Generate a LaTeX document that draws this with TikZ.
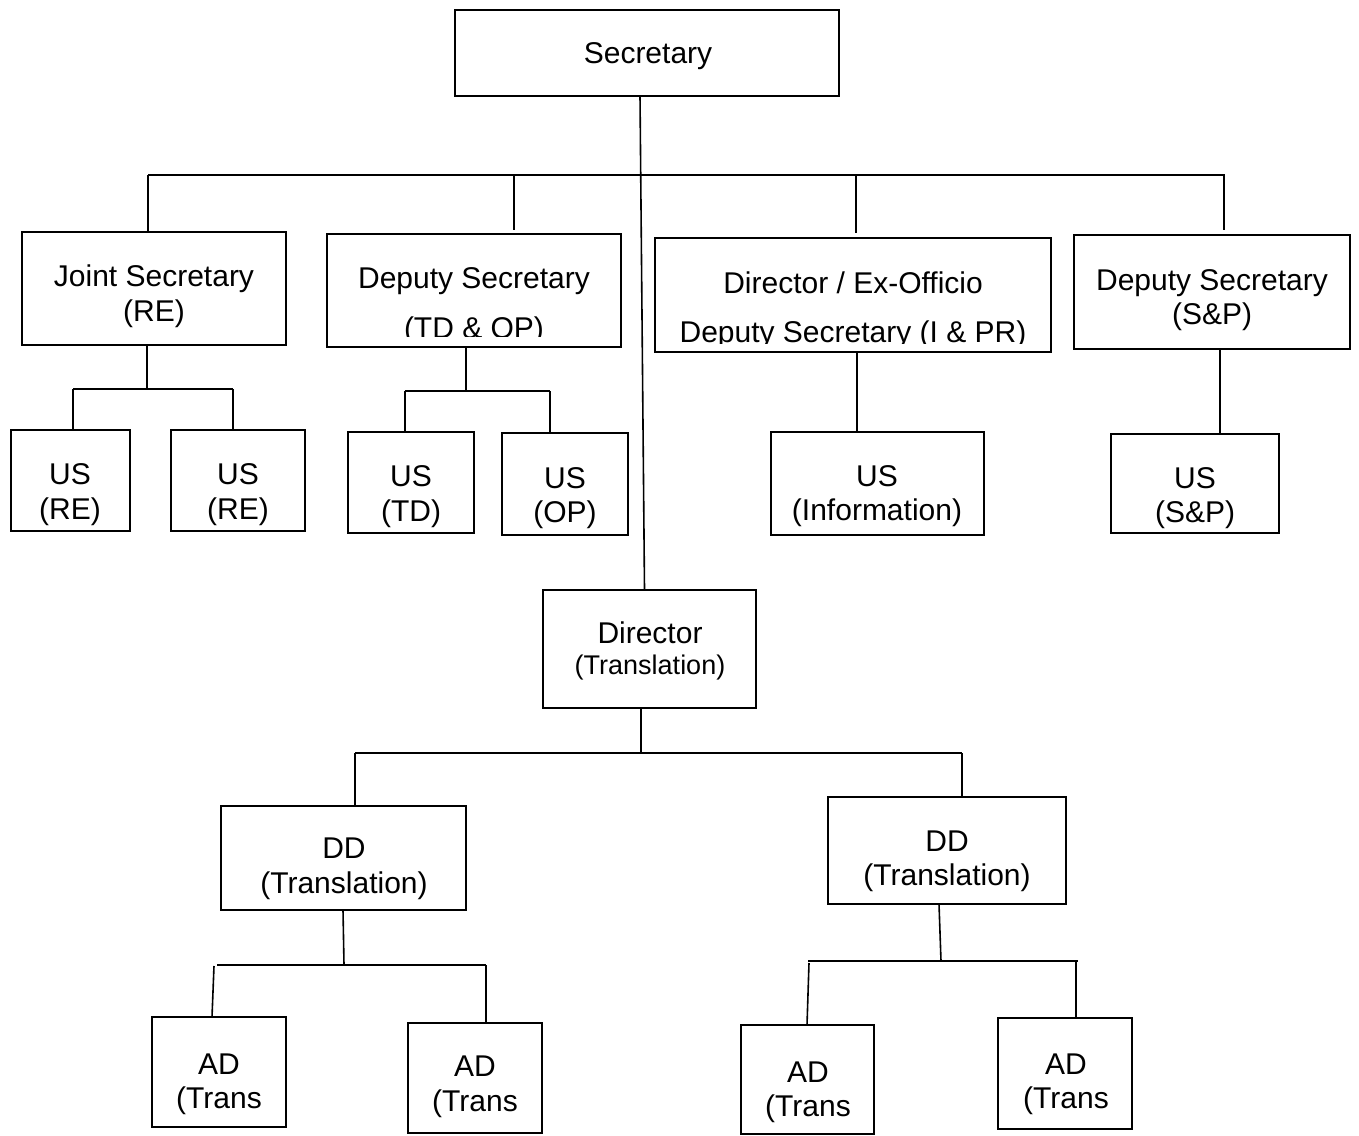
\documentclass[tikz,border=0pt]{standalone}
\usepackage{fontspec}
\setmainfont{Liberation Sans}
\newcommand\obox[5]{%
  \node[box, minimum width={(#4)-(#2)}, minimum height={(#5)-(#3)}] (#1) at ({((#2)+(#4))/2},{((#3)+(#5))/2}) {};}
\begin{document}
\begin{tikzpicture}[x=1pt,y=-1pt,
  box/.style={draw,line width=1.6pt,inner sep=0pt,outer sep=0pt},
  txt/.style={anchor=base,inner sep=0pt,font=\fontsize{30}{36}\selectfont},
  stxt/.style={anchor=base,inner sep=0pt,font=\fontsize{27}{32}\selectfont},
  conn/.style={line width=1.6pt}]
\useasboundingbox[fill=white] (0,0) rectangle (1359,1135);

% boxes
\obox{sec}{455}{10}{839}{96}
\obox{js}{22}{232}{286}{345}
\obox{dsa}{327}{234}{621}{347}
\obox{dex}{655}{238}{1051}{352}
\obox{dsb}{1074}{235}{1350}{349}
\obox{usa}{11}{430}{130}{531}
\obox{usb}{171}{430}{305}{531}
\obox{usc}{348}{432}{474}{533}
\obox{usd}{502}{433}{628}{535}
\obox{use}{771}{432}{984}{535}
\obox{usf}{1111}{434}{1279}{533}
\obox{dirt}{543}{590}{756}{708}
\obox{dda}{221}{806}{466}{910}
\obox{ddb}{828}{797}{1066}{904}
\obox{ada}{152}{1017}{286}{1127}
\obox{adb}{408}{1023}{542}{1133}
\obox{adc}{741}{1025}{874}{1134}
\obox{add}{998}{1018}{1132}{1129}

% texts
\node[txt] (sec-t) at (648,63) {Secretary};
\node[txt] (js-t1) at (154,286) {Joint Secretary};
\node[txt] (js-t2) at (154,321) {(RE)};
\node[txt] (dsa-t1) at (474,288) {Deputy Secretary};
\begin{scope}
  \clip (330,300) rectangle (618,336);
  \node[txt] (dsa-t2) at (474,338) {(TD \& OP)};
\end{scope}
\node[txt] (dex-t1) at (853,293) {Director / Ex-Officio};
\begin{scope}
  \clip (658,300) rectangle (1048,343);
  \node[txt] (dex-t2) at (853,342) {Deputy Secretary (I \& PR)};
\end{scope}
\node[txt] (dsb-t1) at (1212,290) {Deputy Secretary};
\node[txt] (dsb-t2) at (1212,324) {(S\&P)};
\node[txt] (usa-t1) at (70,484) {US};
\node[txt] (usa-t2) at (70,519) {(RE)};
\node[txt] (usb-t1) at (238,484) {US};
\node[txt] (usb-t2) at (238,519) {(RE)};
\node[txt] (usc-t1) at (411,486) {US};
\node[txt] (usc-t2) at (411,521) {(TD)};
\node[txt] (usd-t1) at (565,488) {US};
\node[txt] (usd-t2) at (565,522) {(OP)};
\node[txt] (use-t1) at (877,486) {US};
\node[txt] (use-t2) at (877,520) {(Information)};
\node[txt] (usf-t1) at (1195,488) {US};
\node[txt] (usf-t2) at (1195,522) {(S\&P)};
\node[txt] (dirt-t1) at (650,643) {Director};
\node[stxt] (dirt-t2) at (650,674) {(Translation)};
\node[txt] (dda-t1) at (344,858) {DD};
\node[txt] (dda-t2) at (344,893) {(Translation)};
\node[txt] (ddb-t1) at (947,851) {DD};
\node[txt] (ddb-t2) at (947,885) {(Translation)};
\node[txt] (ada-t1) at (219,1074) {AD};
\node[txt] (ada-t2) at (219,1108) {(Trans};
\node[txt] (adb-t1) at (475,1076) {AD};
\node[txt] (adb-t2) at (475,1111) {(Trans};
\node[txt] (adc-t1) at (808,1082) {AD};
\node[txt] (adc-t2) at (808,1116) {(Trans};
\node[txt] (add-t1) at (1066,1074) {AD};
\node[txt] (add-t2) at (1066,1108) {(Trans};

% connectors
\coordinate (b1l) at (148,175);
\coordinate (b1r) at (1225,175);
\draw[conn] ([xshift=-7pt]sec.south) -- ([xshift=-5pt]dirt.north);
\draw[conn] (b1l) -- (b1r);
\draw[conn] (b1l) -- (b1l |- js.north);
\draw[conn] (514,175) -- ([yshift=4pt]514,234);
\draw[conn] (856,175) -- ([yshift=5pt]856,238);
\draw[conn] (1224,175) -- ([yshift=5pt]1224,235);

\coordinate (b2l) at (73,389);
\coordinate (b2r) at (233,389);
\draw[conn] (js.south -| 147,0) -- (147,389);
\draw[conn] (b2l) -- (b2r);
\draw[conn] (b2l) -- (b2l |- usa.north);
\draw[conn] (b2r) -- (b2r |- usb.north);

\coordinate (b3l) at (405,391);
\coordinate (b3r) at (550,391);
\draw[conn] (dsa.south -| 466,0) -- (466,391);
\draw[conn] (b3l) -- (b3r);
\draw[conn] (b3l) -- (b3l |- usc.north);
\draw[conn] (b3r) -- (b3r |- usd.north);

\draw[conn] (dex.south -| 857,0) -- (857,432);
\draw[conn] (dsb.south -| 1220,0) -- (1220,434);

\coordinate (b4l) at (355,753);
\coordinate (b4r) at (962,753);
\draw[conn] (dirt.south -| 641,0) -- (641,753);
\draw[conn] (b4l) -- (b4r);
\draw[conn] (b4l) -- (b4l |- dda.north);
\draw[conn] (b4r) -- (b4r |- ddb.north);

\coordinate (b5l) at (217,965);
\coordinate (b5r) at (486,965);
\draw[conn] (343,910) -- (344,965);
\draw[conn] (b5l) -- (b5r);
\draw[conn] (214,966) -- (212,1017);
\draw[conn] (b5r) -- (b5r |- adb.north);

\coordinate (b6l) at (808,961);
\coordinate (b6r) at (1078,961);
\draw[conn] (939,904) -- (941,961);
\draw[conn] (b6l) -- (b6r);
\draw[conn] (809,963) -- (807,1025);
\draw[conn] (1076,961) -- (1076,1018);
\end{tikzpicture}
\end{document}
